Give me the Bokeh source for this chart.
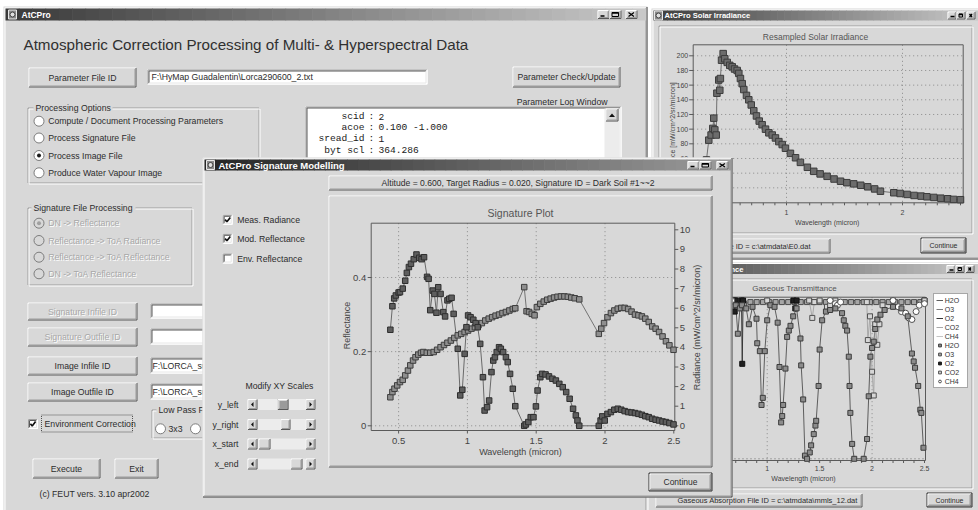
import numpy as np
from bokeh.plotting import figure
from bokeh.models import Range1d, Legend, LegendItem
from bokeh.core.properties import value
from bokeh.embed import file_html
from bokeh.resources import INLINE

# ================= DATA =================
# --- Signature plot (wavelength in micron) ---
sig_wl_rad = [0.44, 0.455, 0.468, 0.48, 0.50, 0.51, 0.53, 0.548, 0.56, 0.575, 0.59, 0.61, 0.63, 0.65, 0.667,
              0.685, 0.707, 0.718, 0.73, 0.748, 0.76, 0.775, 0.788, 0.805, 0.825, 0.838, 0.855, 0.868, 0.885,
              0.90, 0.93, 0.948, 0.963, 0.98, 0.993, 1.005, 1.023, 1.043, 1.06, 1.075, 1.093, 1.113, 1.125,
              1.143, 1.158, 1.175, 1.188, 1.20, 1.213, 1.23, 1.243, 1.26, 1.28, 1.293, 1.31, 1.33, 1.348,
              1.413, 1.425, 1.443, 1.46, 1.48, 1.498, 1.51, 1.53, 1.543, 1.568, 1.593, 1.618, 1.643, 1.668,
              1.693, 1.718, 1.743, 1.768, 1.788, 1.80, 1.813, 1.955, 1.968, 1.98, 1.998, 2.018, 2.043, 2.068,
              2.093, 2.118, 2.143, 2.168, 2.193, 2.218, 2.243, 2.268, 2.293, 2.318, 2.343, 2.368, 2.393,
              2.418, 2.443, 2.468, 2.498]
sig_radiance = [4.9, 6.1, 6.5, 6.65, 6.8, 6.82, 7.0, 7.4, 7.8, 8.1, 8.27, 8.5, 8.74, 8.57, 8.5,
                8.6, 7.6, 7.5, 5.9, 6.9, 6.73, 5.77, 7.07, 6.73, 5.8, 5.58, 6.4, 6.48, 6.53,
                5.71, 3.93, 1.55, 1.84, 3.67, 5.03, 5.63, 5.54, 5.41, 5.24, 5.03, 4.18, 2.48, 0.78,
                0.95, 1.29, 2.74, 3.33, 3.5, 3.76, 4.01, 3.93, 3.76, 3.5, 3.25, 2.65, 1.89, 1.0,
                0.0, 0.07, 0.19, 0.44, 0.44, 0.99, 1.8, 2.48, 2.65, 2.62, 2.52, 2.4, 2.31, 2.14,
                1.97, 1.72, 1.38, 0.87, 0.53, 0.27, 0.0, 0.0, 0.27, 0.48, 0.27, 0.61, 0.7, 0.82,
                0.87, 0.82, 0.75, 0.7, 0.68, 0.65, 0.61, 0.56, 0.49, 0.44, 0.36, 0.31, 0.27,
                0.22, 0.19, 0.14, 0.07]
sig_wl_refl = [0.44, 0.455, 0.47, 0.49, 0.51, 0.53, 0.548, 0.568, 0.585, 0.605, 0.623, 0.643, 0.663, 0.68,
               0.705, 0.73, 0.755, 0.78, 0.805, 0.83, 0.855, 0.88, 0.905, 0.93, 0.955, 0.98, 1.005, 1.03,
               1.055, 1.08, 1.105, 1.13, 1.155, 1.18, 1.205, 1.23, 1.255, 1.28, 1.305, 1.33, 1.348, 1.413,
               1.43, 1.448, 1.468, 1.488, 1.505, 1.53, 1.555, 1.58, 1.605, 1.63, 1.655, 1.68, 1.705, 1.73,
               1.755, 1.78, 1.813, 1.955, 1.973, 1.993, 2.018, 2.043, 2.068, 2.093, 2.118, 2.143, 2.168,
               2.193, 2.218, 2.243, 2.268, 2.293, 2.318, 2.343, 2.368, 2.393, 2.418, 2.443, 2.468, 2.498]
sig_reflectance = [0.077, 0.091, 0.100, 0.109, 0.118, 0.124, 0.136, 0.149, 0.163, 0.176, 0.185, 0.192, 0.197,
                   0.199, 0.197, 0.197, 0.199, 0.205, 0.212, 0.218, 0.224, 0.230, 0.237, 0.244, 0.248, 0.253,
                   0.257, 0.262, 0.266, 0.271, 0.277, 0.284, 0.289, 0.293, 0.297, 0.300, 0.304, 0.307, 0.311,
                   0.315, 0.317, 0.374, 0.309, 0.307, 0.302, 0.298, 0.320, 0.329, 0.335, 0.340, 0.343, 0.346,
                   0.348, 0.349, 0.349, 0.348, 0.346, 0.344, 0.341, 0.248, 0.262, 0.277, 0.293, 0.304, 0.311,
                   0.316, 0.318, 0.318, 0.315, 0.308, 0.300, 0.298, 0.295, 0.289, 0.280, 0.268, 0.262, 0.253,
                   0.241, 0.228, 0.217, 0.205]
sig_x_ticks = [0.5, 1.0, 1.5, 2.0, 2.5]
sig_x_tick_labels = ["0.5", "1", "1.5", "2", "2.5"]
sig_refl_ticks = [0.0, 0.2, 0.4]
sig_refl_tick_labels = ["0", "0.2", "0.4"]
sig_rad_ticks = [0, 1, 2, 3, 4, 5, 6, 7, 8, 9, 10]
sig_rad_tick_labels = ["0", "1", "2", "3", "4", "5", "6", "7", "8", "9", "10"]

# --- Resampled solar irradiance ---
sol_wl = [0.31, 0.33, 0.35, 0.365, 0.373, 0.382, 0.394, 0.40, 0.416, 0.425, 0.43, 0.44, 0.454, 0.468, 0.489,
          0.511, 0.532, 0.552, 0.575, 0.589, 0.603, 0.618, 0.632, 0.655, 0.675, 0.696, 0.718, 0.741, 0.765,
          0.79, 0.819, 0.848, 0.877, 0.905, 0.934, 0.963, 0.991, 1.034, 1.078, 1.12, 1.18, 1.235, 1.29, 1.35,
          1.41, 1.466, 1.52, 1.58, 1.64, 1.70, 1.76, 1.81, 1.925, 1.98, 2.04, 2.10, 2.16, 2.21, 2.27, 2.33,
          2.39, 2.44, 2.50]
sol_irradiance = [58, 85, 92, 101, 115, 99, 92, 149, 167, 153, 169, 194, 203, 196, 191,
                  187, 185, 182, 180, 176, 169, 162, 154, 146, 140, 133, 125, 118, 111,
                  106, 100, 95, 92, 88, 83, 79, 74, 67, 61, 54.7, 48, 42.5, 39, 35.7,
                  32, 29, 27, 25.4, 23.5, 21.4, 18.5, 15.4, 13.3, 12.3, 11, 9.6, 8.7, 7.8, 6.9, 5.9,
                  5.1, 4.2, 3.8]
sol_x_ticks = [1.0, 2.0]
sol_x_tick_labels = ["1", "2"]
sol_y_ticks = [0, 20, 40, 60, 80, 100, 120, 140, 160, 180, 200]
sol_y_tick_labels = ["0", "20", "40", "60", "80", "100", "120", "140", "160", "180", "200"]
minor_ticks = [0.3, 0.4, 0.5, 0.6, 0.7, 0.8, 0.9, 1.0, 1.1, 1.2, 1.3, 1.4, 1.5, 1.6, 1.7, 1.8, 1.9,
               2.0, 2.1, 2.2, 2.3, 2.4, 2.5]

# --- Gaseous transmittance ---
gas_wl_h2o = [0.70, 0.72, 0.74, 0.76, 0.80, 0.825, 0.86, 0.898, 0.905, 0.93, 0.946, 0.958, 0.977, 1.0, 1.03,
              1.07, 1.10, 1.117, 1.133, 1.143, 1.152, 1.174, 1.19, 1.206, 1.222, 1.248, 1.28, 1.317, 1.324,
              1.343, 1.36, 1.38, 1.406, 1.419, 1.444, 1.46, 1.467, 1.49, 1.50, 1.524, 1.56, 1.60, 1.65,
              1.714, 1.73, 1.745, 1.762, 1.778, 1.785, 1.793, 1.81, 1.83, 1.92, 1.952, 1.968, 1.984, 2.0,
              2.016, 2.03, 2.05, 2.08, 2.12, 2.20, 2.28, 2.34, 2.38, 2.397, 2.41, 2.44, 2.46, 2.47, 2.49]
gas_h2o = [0.97, 0.79, 0.95, 0.97, 0.95, 0.85, 0.96, 0.885, 0.73, 0.68, 0.34, 0.385, 0.68, 0.875, 0.97,
           0.96, 0.86, 0.58, 0.23, 0.27, 0.34, 0.57, 0.77, 0.81, 0.84, 0.90, 0.95, 0.76, 0.59,
           0.375, 0.02, 0.0, 0.04, 0.085, 0.156, 0.21, 0.24, 0.46, 0.69, 0.875, 0.93, 0.94, 0.95,
           0.92, 0.875, 0.84, 0.81, 0.645, 0.46, 0.29, 0.094, 0.0, 0.0, 0.125, 0.395, 0.645, 0.70,
           0.74, 0.82, 0.88, 0.91, 0.94, 0.96, 0.95, 0.90, 0.665, 0.615, 0.575, 0.46, 0.31, 0.29, 0.07]
gas_wl_o3 = [0.66, 0.72, 0.78, 0.84, 0.90, 0.96, 1.02, 1.08, 1.14, 1.20, 1.26, 1.32, 1.38, 1.44, 1.50, 1.56,
             1.62, 1.68, 1.74, 1.80, 1.86, 1.92, 1.98, 2.04, 2.10, 2.16, 2.22, 2.28, 2.34, 2.40, 2.46]
gas_o3 = [0.96, 0.97, 0.98, 0.99, 0.99, 0.99, 0.99, 0.99, 0.99, 0.99, 0.99, 0.99, 0.99, 0.99, 0.99, 0.99,
          0.99, 0.99, 0.99, 0.99, 0.99, 0.99, 0.99, 0.99, 0.99, 0.99, 0.99, 0.99, 0.99, 0.99, 0.99]
gas_wl_o2 = [0.66, 0.685, 0.69, 0.70, 0.755, 0.762, 0.77, 1.25, 1.268, 1.28, 2.5]
gas_o2 = [1.0, 1.0, 0.93, 1.0, 1.0, 0.6, 1.0, 1.0, 0.95, 1.0, 1.0]
gas_wl_co2 = [0.66, 1.0, 1.40, 1.43, 1.45, 1.50, 1.57, 1.60, 1.65, 1.95, 1.96, 1.98, 2.0, 2.016, 2.03, 2.05,
              2.07, 2.10, 2.2, 2.5]
gas_co2 = [1.0, 1.0, 1.0, 0.89, 0.99, 1.0, 0.96, 0.97, 1.0, 0.99, 0.75, 0.9, 0.55, 0.4, 0.85, 0.72,
           0.85, 0.97, 1.0, 1.0]
gas_wl_ch4 = [0.66, 1.6, 1.65, 1.67, 1.7, 2.2, 2.25, 2.28, 2.32, 2.35, 2.38, 2.42, 2.45, 2.5]
gas_ch4 = [1.0, 1.0, 0.98, 0.97, 0.99, 1.0, 0.96, 0.93, 0.92, 0.89, 0.88, 0.93, 0.97, 0.98]
gas_names = ["H2O", "O3", "O2", "CO2", "CH4"]
gas_x_ticks = [1.0, 1.5, 2.0, 2.5]
gas_x_tick_labels = ["1", "1.5", "2", "2.5"]
gas_grid_x = [1.0, 2.0]

# ================= STYLE =================
FONT = "Liberation Sans"
MONO = "Liberation Mono"
FACE = "#d8d8d8"
HI = "#ffffff"
SH = "#9c9c9c"
DK = "#585858"
TXT = "#2c2c2c"
GREY = "#a8a8a8"
UI = 8.7

X0, X1, Y0, Y1 = 0, 978, 0, 510
p = figure(width=X1 - X0, height=Y1 - Y0, x_range=Range1d(X0, X1), y_range=Range1d(Y1, Y0),
           x_axis_location=None, y_axis_location=None, toolbar_location=None,
           output_backend="svg", min_border=0)
p.outline_line_color = None
p.background_fill_color = "white"
p.border_fill_color = "white"
p.xgrid.visible = False
p.ygrid.visible = False


def lin_range(d_a, px_a, d_b, px_b, full_a, full_b):
    k = (d_b - d_a) / (px_b - px_a)
    return Range1d(start=d_a + (full_a - px_a) * k, end=d_a + (full_b - px_a) * k)


p.extra_x_ranges = {
    "sig_x": lin_range(0.5, 398.1, 2.5, 673.3, X0, X1),
    "sol_x": lin_range(1.0, 786.0, 2.0, 902.0, X0, X1),
    "gas_x": lin_range(1.0, 766.7, 2.5, 924.0, X0, X1),
}
p.extra_y_ranges = {
    "sig_refl": lin_range(0.0, 425.3, 0.4, 277.0, Y1, Y0),
    "sig_rad": lin_range(0.0, 425.3, 10.0, 229.3, Y1, Y0),
    "sol_y": lin_range(0.0, 202.0, 200.0, 55.3, Y1, Y0),
    "gas_y": lin_range(0.0, 458.3, 1.0, 300.0, Y1, Y0),
}


def box(x0, y0, x1, y1, fill, line=None, lw=1, dash="solid"):
    p.quad(left=[x0], right=[x1], top=[y0], bottom=[y1], fill_color=fill,
           line_color=line, line_width=lw, line_dash=dash)


def seg(lines, color, lw=1, dash="solid", xr="default", yr="default"):
    p.segment(x0=[l[0] for l in lines], y0=[l[1] for l in lines],
              x1=[l[2] for l in lines], y1=[l[3] for l in lines],
              line_color=color, line_width=lw, line_dash=dash,
              x_range_name=xr, y_range_name=yr)


def txt(x, y, s, size=UI, color=TXT, align="left", baseline="middle", font=FONT,
        style="normal", angle=0.0, xr="default", yr="default"):
    cols = [x, y, s]
    n = max(len(c) if isinstance(c, list) else 1 for c in cols)
    xs, ys, ss = [c if isinstance(c, list) else [c] * n for c in cols]
    p.text(x=xs, y=ys, text=ss, text_font=value(font), text_font_size=value(f"{size}px"),
           text_color=color, text_align=align, text_baseline=baseline,
           text_font_style=style, angle=angle, x_range_name=xr, y_range_name=yr)


def gtxt(x, y, s, size=UI, align="left"):
    txt(x + 1, y + 1, s, size, HI, align)
    txt(x, y, s, size, GREY, align)


def bevel(x0, y0, x1, y1, otl, obr, itl=None, ibr=None):
    def ring(i, tl, br):
        a, b, c, d = x0 + i + .5, y0 + i + .5, x1 - i - .5, y1 - i - .5
        seg([(a, b, c, b), (a, b, a, d)], tl)
        seg([(a, d, c, d), (c, b, c, d)], br)
    ring(0, otl, obr)
    if itl or ibr:
        ring(1, itl or FACE, ibr or FACE)


def raised(x0, y0, x1, y1, face=FACE):
    box(x0, y0, x1, y1, face)
    bevel(x0, y0, x1, y1, HI, DK, None, SH)


def field(x0, y0, x1, y1, fill="#ffffff"):
    box(x0, y0, x1, y1, fill)
    bevel(x0, y0, x1, y1, SH, HI, DK, "#e6e6e6")


def etched(x0, y0, x1, y1, gap=None):
    for off, col in ((0, SH), (1, HI)):
        a, b, c, d = x0 + off + .5, y0 + off + .5, x1 + off - .5, y1 + off - .5
        lines = [(a, b, a, d), (a, d, c, d), (c, b, c, d)]
        if gap:
            lines += [(a, b, gap[0], b), (gap[1], b, c, b)]
        else:
            lines.append((a, b, c, b))
        seg(lines, col)


def button(x0, y0, x1, y1, label, size=UI, disabled=False, default=False):
    box(x0, y0, x1, y1, FACE)
    if default:
        box(x0 + .5, y0 + .5, x1 - .5, y1 - .5, None, "#303030")
        bevel(x0 + 1, y0 + 1, x1 - 1, y1 - 1, HI, DK, None, SH)
    else:
        bevel(x0, y0, x1, y1, HI, DK, None, SH)
    cx, cy = (x0 + x1) / 2, (y0 + y1) / 2
    if label:
        if disabled:
            gtxt(cx, cy, label, size, "center")
        else:
            txt(cx, cy, label, size, align="center")


def mix(c0, c1, t):
    a = [int(c0[i:i + 2], 16) for i in (1, 3, 5)]
    b = [int(c1[i:i + 2], 16) for i in (1, 3, 5)]
    return "#%02x%02x%02x" % tuple(int(round(a[k] + (b[k] - a[k]) * t)) for k in range(3))


def titlebar(x0, y0, x1, y1, c0, c1, n=48):
    xs = np.linspace(x0, x1, n + 1)
    cols = [mix(c0, c1, i / (n - 1)) for i in range(n)]
    p.quad(left=list(xs[:-1]), right=list(xs[1:] + 0.6), top=[y0] * n, bottom=[y1] * n,
           fill_color=cols, line_color=None)


def controls(spans, y0, y1):
    for a, b in spans:
        box(a, y0, b, y1, FACE)
        bevel(a, y0, b, y1, HI, DK, None, SH)
    a, b = spans[0]
    seg([(a + 3, y1 - 3, a + 7, y1 - 3)], "#000000", 1.5)
    a, b = spans[1]
    box(a + 2.5, y0 + 2.5, b - 3, y1 - 2.5, None, "#000000")
    seg([(a + 2.5, y0 + 3, b - 3, y0 + 3)], "#000000", 1.3)
    a, b = spans[2]
    seg([(a + 3, y0 + 2.5, b - 3.5, y1 - 2.5), (a + 3, y1 - 2.5, b - 3.5, y0 + 2.5)], "#000000", 1.3)


def icon(x, y):
    box(x, y, x + 8, y + 9, "#8c8c8c", "#e8e8e8")
    p.scatter([x + 4], [y + 4.5], marker="circle", size=5, fill_color="#e0e0e0", line_color="#404040")


def window(x0, y0, x1, y1):
    box(x0, y0, x1, y1, FACE)
    bevel(x0, y0, x1, y1, "#e8e8e8", "#404040", HI, SH)


def radio(x, y, on=False, disabled=False):
    p.scatter([x], [y], marker="circle", size=10, fill_color=FACE if disabled else "#ffffff",
              line_color="#7c7c7c")
    if on:
        p.scatter([x], [y], marker="circle", size=4, fill_color="#a0a0a0" if disabled else "#1c1c1c",
                  line_color=None)


def checkbox(x, y, on):
    field(x - 5, y - 5, x + 5, y + 5)
    if on:
        p.line([x - 2.6, x - 0.8, x + 2.6], [y - 0.2, y + 2.0, y - 2.4], line_color="#111111", line_width=1.7)


def scrollbar(x0, x1, yc, t0, t1, dark=False):
    h = 5.5
    box(x0, yc - h, x1, yc + h, "#ececec")
    for a, b in ((x0, x0 + 10), (x1 - 10, x1)):
        box(a, yc - h, b, yc + h, FACE)
        bevel(a, yc - h, b, yc + h, HI, DK, None, SH)
    p.patches(xs=[[x0 + 6, x0 + 6, x0 + 3.5], [x1 - 6, x1 - 6, x1 - 3.5]],
              ys=[[yc - 2.5, yc + 2.5, yc], [yc - 2.5, yc + 2.5, yc]],
              fill_color="#111111", line_color=None)
    box(t0, yc - h, t1, yc + h, "#9a9a9a" if dark else FACE)
    bevel(t0, yc - h, t1, yc + h, HI, DK, None, SH)


# ================= MAIN WINDOW =================
window(3, 6, 647, 515)
titlebar(5, 8, 645, 20, "#3a3a3a", "#c8c8c8")
icon(8, 9.5)
txt(21, 14.5, "AtCPro", 8.5, "#ffffff", style="bold")
controls([(597, 609), (609, 621), (625, 637)], 9.5, 18.5)
txt(23, 44, "Atmospheric Correction Processing of Multi- & Hyperspectral Data", 15.2, "#303030")

button(28, 67, 136, 87, "Parameter File ID")
field(147, 69, 427, 84)
txt(151, 76.5, "F:\\HyMap Guadalentin\\Lorca290600_2.txt")
button(512, 66, 620, 87, "Parameter Check/Update")
txt(607, 101, "Parameter Log Window", align="right")
field(305, 106, 621, 180)
box(604, 108, 619, 180, "#ececec")
button(605, 108, 618, 121, "")
p.patches(xs=[[608.5, 614.5, 611.5]], ys=[[116.5, 116.5, 113]], fill_color="#111111", line_color=None)
log_names = ["scid", "acoe", "sread_id", "byt scl"]
log_values = ["2", "0.100 -1.000", "1", "364.286"]
log_y = [116, 127, 138, 149.5]
txt(364, log_y, log_names, 9.6, "#1a1a1a", align="right", font=MONO)
txt(371, log_y, [":"] * 4, 9.6, "#1a1a1a", align="center", font=MONO)
txt(378, log_y, log_values, 9.6, "#1a1a1a", font=MONO)

etched(27, 107, 259, 183, gap=(33, 112))
txt(35, 107, "Processing Options")
for i, (yy, lab) in enumerate(zip([120.7, 137.5, 155, 172.3],
                                  ["Compute / Document Processing Parameters", "Process Signature File",
                                   "Process Image File", "Produce Water Vapour Image"])):
    radio(38.5, yy, on=(i == 2))
    txt(47.7, yy, lab)

etched(27, 207, 192, 285, gap=(31, 135))
txt(33, 207.5, "Signature File Processing")
for i, (yy, lab) in enumerate(zip([222.7, 240, 256.7, 273.3],
                                  ["DN -> Reflectance", "Reflectance -> ToA Radiance",
                                   "Reflectance -> ToA Reflectance", "DN -> ToA Reflectance"])):
    radio(38.5, yy, on=(i == 0), disabled=True)
    gtxt(47.7, yy, lab)

button(27, 302, 137, 320, "Signature Infile ID", disabled=True)
button(27, 327, 137, 346, "Signature Outfile ID", disabled=True)
button(27, 356, 137, 375, "Image Infile ID")
button(27, 382, 137, 401, "Image Outfile ID")
field(150, 303, 215, 318)
field(150, 328, 215, 344)
field(150, 357, 215, 373)
txt(152, 365, "F:\\LORCA_sub.img")
field(150, 383, 215, 399)
txt(152, 391, "F:\\LORCA_sub_cor.img")

checkbox(32.5, 423.5, True)
box(41, 414.5, 132, 431.5, None, "#505050", 1, "1 1")
txt(44, 423.5, "Environment Correction")
etched(151, 409, 215, 438, gap=(156, 215))
txt(158, 409.5, "Low Pass Filter")
radio(160, 428.3)
txt(168, 428.3, "3x3")
radio(195, 428.3)

button(32, 458, 100, 478, "Execute")
button(114, 458, 158, 478, "Exit")
txt(39, 493, "(c) FEUT vers. 3.10 apr2002")

# ================= SOLAR IRRADIANCE WINDOW =================
window(651, 8, 985, 259)
titlebar(653, 10, 983, 20, "#3e3e3e", "#cacaca")
icon(654, 10.5)
txt(664, 15, "AtCPro Solar Irradiance", 7.6, "#ffffff", style="bold")
controls([(947, 956), (956, 965), (966, 975)], 11, 19)
etched(658, 25, 972, 233)
txt(815, 36.7, "Resampled Solar Irradiance", 8.5, "#555555", align="center")
S_L, S_R, S_T, S_B = 692.7, 962.7, 44.3, 202.3
seg([(x, S_T, x, S_B) for x in sol_x_ticks], "#8a8a8a", 1, "1 3", xr="sol_x")
seg([(S_L, y, S_R, y) for y in sol_y_ticks[1:]], "#8a8a8a", 1, "1 3", yr="sol_y")
box(S_L, S_T, S_R, S_B, None, "#5a5a5a")
seg([(x, S_B, x, S_B + 2.5) for x in minor_ticks], "#5a5a5a", xr="sol_x")
seg([(S_L - 4, y, S_L, y) for y in sol_y_ticks], "#5a5a5a", yr="sol_y")
txt(S_L - 5, sol_y_ticks, sol_y_tick_labels, 7, "#444444", align="right", yr="sol_y")
txt(sol_x_ticks, 212, sol_x_tick_labels, 7, "#444444", align="center", xr="sol_x")
txt(826.7, 221.7, "Wavelength (micron)", 7, "#444444", align="center")
txt(671.5, 131, "Irradiance [mW/cm^2/sr/micron]", 7, "#444444", align="center", angle=np.pi / 2)
p.line(sol_wl, sol_irradiance, line_color="#707070", line_width=1, x_range_name="sol_x", y_range_name="sol_y")
p.scatter(sol_wl, sol_irradiance, marker="square", size=6.5, fill_color="#6c6c6c", line_color="#3c3c3c",
          x_range_name="sol_x", y_range_name="sol_y")
raised(700, 238, 830, 253)
txt(810, 245.5, "Solar Irradiance File ID = c:\\atmdata\\E0.dat", 7.5, align="right")
button(920, 237, 966, 253, "Continue", size=7, default=True)

# ================= GASEOUS TRANSMITTANCE WINDOW =================
window(646, 261.5, 985, 515)
titlebar(648, 263.5, 983, 273.5, "#3e3e3e", "#cacaca")
txt(743, 268.5, "AtCPro Gaseous Transmittance", 7.6, "#ffffff", align="right", style="bold")
controls([(946, 955), (955, 964), (965, 974)], 264.5, 272.5)
etched(654, 278, 972, 488)
txt(794, 287.7, "Gaseous Transmittance", 8, "#555555", align="center")
G_L, G_R, G_T, G_B = 690, 925, 296.7, 460
seg([(x, G_T, x, G_B) for x in gas_grid_x], "#8a8a8a", 1, "1 3", xr="gas_x")
seg([(G_L, 0.0, G_R, 0.0)], "#6a6a6a", 1, "1 3", yr="gas_y")
box(G_L, G_T, G_R, G_B, None, "#5a5a5a")
seg([(x, G_B, x, G_B + 2.5) for x in minor_ticks], "#5a5a5a", xr="gas_x")
txt(gas_x_ticks, 468.3, gas_x_tick_labels, 7, "#444444", align="center", xr="gas_x")
txt(803, 477.7, "Wavelength (micron)", 7, "#444444", align="center")

gas_series = {
    "H2O": (gas_wl_h2o, gas_h2o, "#5e5e5e", "#8c8c8c", "#3c3c3c", "square", 5),
    "O3": (gas_wl_o3, gas_o3, "#7c7c7c", "#a6a6a6", "#4c4c4c", "square", 5),
    "O2": (gas_wl_o2, gas_o2, "#383838", "#202020", "#101010", "square", 5),
    "CO2": (gas_wl_co2, gas_co2, "#a8a8a8", "#d6d6d6", "#505050", "square", 5),
    "CH4": (gas_wl_ch4, gas_ch4, "#c4c4c4", "#ffffff", "#505050", "circle", 6),
}
line_r, mark_r = {}, {}
for name in gas_names:
    wl, tr, lc, fc, ec, mk, sz = gas_series[name]
    line_r[name] = p.line(wl, tr, line_color=lc, line_width=1, x_range_name="gas_x", y_range_name="gas_y")
for name in ["O3", "O2", "CO2", "CH4", "H2O"]:
    wl, tr, lc, fc, ec, mk, sz = gas_series[name]
    mark_r[name] = p.scatter(wl, tr, marker=mk, size=sz, fill_color=fc, line_color=ec,
                             x_range_name="gas_x", y_range_name="gas_y")
items = [LegendItem(label=n, renderers=[line_r[n]]) for n in gas_names] + \
        [LegendItem(label=n, renderers=[mark_r[n]]) for n in gas_names]
legend = Legend(items=items, location=(932.7, 121.7), background_fill_color="#ffffff",
                background_fill_alpha=1.0, border_line_color="#505050", label_text_font=FONT,
                label_text_font_size="7px", label_text_color="#333333", label_height=8,
                glyph_height=8, glyph_width=7, spacing=1, padding=2, margin=0, label_standoff=2)
p.add_layout(legend)
raised(655, 493, 862, 507)
txt(677, 500, "Gaseous Absorption File ID = c:\\atmdata\\mmls_12.dat", 7.5)
button(926, 492, 972, 507, "Continue", size=7, default=True)

# ================= SIGNATURE MODELLING WINDOW =================
window(202, 157, 732, 497)
titlebar(204, 159, 730, 170, "#262626", "#9a9a9a")
icon(206, 160)
txt(218, 164.5, "AtCPro Signature Modelling", 9.5, "#ffffff", style="bold")
controls([(687, 699), (699, 711), (716, 728)], 160.5, 169)

for yy, lab, on in ((219.3, "Meas. Radiance", True), (238.3, "Mod. Reflectance", True),
                    (258, "Env. Reflectance", False)):
    checkbox(227.2, yy, on)
    txt(236.7, yy, lab)
txt(313, 385, "Modify XY Scales", align="right")
for yy, lab, t0, t1, dk in ((404, "y_left", 277, 288, True), (424, "y_right", 280, 290, False),
                            (443.5, "x_start", 258, 270, False), (463.5, "x_end", 290, 302, False)):
    txt(238, yy, lab, align="right")
    scrollbar(247, 315, yy, t0, t1, dk)

raised(328, 175, 712, 190)
txt(520, 182.5, "Altitude = 0.600, Target Radius = 0.020, Signature ID =   Dark Soil #1~~2", 8.6,
    align="center")
raised(328, 195, 712, 467)
txt(520, 212.3, "Signature Plot", 10.5, "#555555", align="center")

F_L, F_R, F_T, F_B = 370.7, 674.3, 222.7, 430
seg([(x, F_T, x, F_B) for x in sig_x_ticks[:-1]], "#8a8a8a", 1, "1 3", xr="sig_x")
seg([(F_L, y, F_R, y) for y in sig_refl_ticks], "#8a8a8a", 1, "1 3", yr="sig_refl")
box(F_L, F_T, F_R, F_B, None, "#5a5a5a")
seg([(x, F_B, x, F_B + 3) for x in sig_x_ticks], "#5a5a5a", xr="sig_x")
seg([(F_L - 3.5, y, F_L, y) for y in sig_refl_ticks], "#5a5a5a", yr="sig_refl")
seg([(F_R, y, F_R + 3.5, y) for y in sig_rad_ticks], "#5a5a5a", yr="sig_rad")
txt(sig_x_ticks, 440, sig_x_tick_labels, 9.5, "#444444", align="center", xr="sig_x")
txt(F_L - 5, sig_refl_ticks, sig_refl_tick_labels, 9.5, "#444444", align="right", yr="sig_refl")
txt(F_R + 5, sig_rad_ticks, sig_rad_tick_labels, 9.5, "#444444", align="left", yr="sig_rad")
txt(520, 451.7, "Wavelength (micron)", 9, "#444444", align="center")
txt(346.3, 325, "Reflectance", 9, "#444444", align="center", angle=np.pi / 2)
txt(696, 327, "Radiance (mW/cm^2/sr/micron)", 9, "#444444", align="center", angle=np.pi / 2)

p.line(sig_wl_refl, sig_reflectance, line_color="#747474", line_width=1, x_range_name="sig_x",
       y_range_name="sig_refl")
p.line(sig_wl_rad, sig_radiance, line_color="#6a6a6a", line_width=1, x_range_name="sig_x",
       y_range_name="sig_rad")
p.scatter(sig_wl_refl, sig_reflectance, marker="square", size=5.5, fill_color="#8e8e8e", line_color="#3e3e3e",
          x_range_name="sig_x", y_range_name="sig_refl")
p.scatter(sig_wl_rad, sig_radiance, marker="square", size=5.5, fill_color="#5e5e5e", line_color="#2e2e2e",
          x_range_name="sig_x", y_range_name="sig_rad")

button(648, 472, 712, 491, "Continue", size=8.5, default=True)

open("out.html", "w").write(file_html(p, INLINE))
